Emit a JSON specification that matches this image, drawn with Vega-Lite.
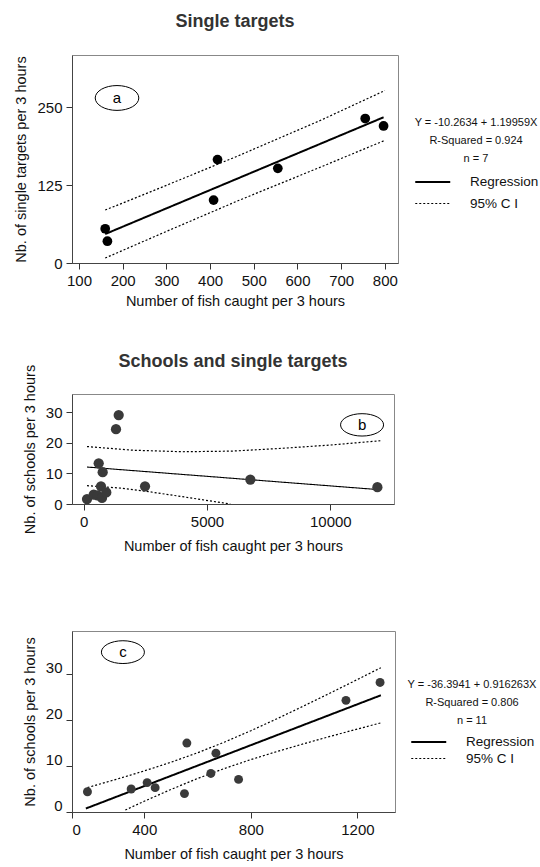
{
  "$schema": "https://vega.github.io/schema/vega-lite/v6.json",
  "background": "white",
  "padding": {"left": 13, "top": 12, "right": 0, "bottom": 0},
  "config": {
    "font": "Liberation Sans",
    "view": {"stroke": "#888", "strokeWidth": 1},
    "axis": {"grid": false, "labelFont": "Liberation Sans", "labelFontSize": 15, "labelColor": "#111", "titleFont": "Liberation Sans", "titleFontSize": 14.5, "titleFontWeight": "normal", "titleColor": "#111", "tickColor": "#333", "domainColor": "#444", "tickSize": 6, "labelPadding": 4},
    "title": {"fontSize": 18, "fontWeight": "bold", "color": "#333", "font": "Liberation Sans"},
    "concat": {"spacing": 44}
  },
  "resolve": {"scale": {"strokeDash": "independent", "strokeWidth": "independent"}, "legend": {"strokeDash": "independent", "strokeWidth": "independent"}},
  "datasets": {
    "pts_a": [
      {"x": 160, "y": 55}, {"x": 165, "y": 35}, {"x": 408, "y": 101}, {"x": 417, "y": 166},
      {"x": 555, "y": 152}, {"x": 755, "y": 232}, {"x": 797, "y": 220}
    ],
    "lines_a": [
      {"series": "Regression", "part": "fit", "x": 160, "y": 46.5},
      {"series": "Regression", "part": "fit", "x": 797, "y": 234},
      {"series": "95% C I", "part": "upper", "x": 160, "y": 85},
      {"series": "95% C I", "part": "upper", "x": 300, "y": 124.7},
      {"series": "95% C I", "part": "upper", "x": 465, "y": 172.3},
      {"series": "95% C I", "part": "upper", "x": 650, "y": 228.2},
      {"series": "95% C I", "part": "upper", "x": 800, "y": 276.9},
      {"series": "95% C I", "part": "lower", "x": 160, "y": 8},
      {"series": "95% C I", "part": "lower", "x": 300, "y": 50.7},
      {"series": "95% C I", "part": "lower", "x": 465, "y": 100.3},
      {"series": "95% C I", "part": "lower", "x": 650, "y": 153.2},
      {"series": "95% C I", "part": "lower", "x": 800, "y": 196.9}
    ],
    "lab_a": [{"x": 187, "y": 265, "label": "a"}],
    "pts_b": [
      {"x": 1419, "y": 29.1}, {"x": 1310, "y": 24.5}, {"x": 608, "y": 13.3}, {"x": 770, "y": 10.4},
      {"x": 701, "y": 5.8}, {"x": 2486, "y": 5.8}, {"x": 6756, "y": 8.0}, {"x": 11906, "y": 5.5},
      {"x": 134, "y": 1.6}, {"x": 405, "y": 3.1}, {"x": 560, "y": 2.8}, {"x": 742, "y": 2.0}, {"x": 917, "y": 3.8}
    ],
    "lines_b": [
      {"series": "Regression", "part": "fit", "x": 134, "y": 12.1},
      {"series": "Regression", "part": "fit", "x": 11960, "y": 4.7},
      {"series": "95% C I", "part": "upper", "x": 134, "y": 18.8},
      {"series": "95% C I", "part": "upper", "x": 2000, "y": 17.6},
      {"series": "95% C I", "part": "upper", "x": 4000, "y": 17.1},
      {"series": "95% C I", "part": "upper", "x": 6000, "y": 17.3},
      {"series": "95% C I", "part": "upper", "x": 8000, "y": 18.2},
      {"series": "95% C I", "part": "upper", "x": 10000, "y": 19.3},
      {"series": "95% C I", "part": "upper", "x": 12027, "y": 20.7},
      {"series": "95% C I", "part": "lower", "x": 134, "y": 6.0},
      {"series": "95% C I", "part": "lower", "x": 1500, "y": 5.2},
      {"series": "95% C I", "part": "lower", "x": 2500, "y": 4.2},
      {"series": "95% C I", "part": "lower", "x": 4000, "y": 2.4},
      {"series": "95% C I", "part": "lower", "x": 5945, "y": 0}
    ],
    "lab_b": [{"x": 11285, "y": 25.9, "label": "b"}],
    "pts_c": [
      {"x": 187, "y": 4.4}, {"x": 351, "y": 5.0}, {"x": 411, "y": 6.4}, {"x": 441, "y": 5.3},
      {"x": 551, "y": 4.0}, {"x": 560, "y": 15.0}, {"x": 650, "y": 8.4}, {"x": 669, "y": 12.8},
      {"x": 754, "y": 7.1}, {"x": 1157, "y": 24.3}, {"x": 1285, "y": 28.2}
    ],
    "lines_c": [
      {"series": "Regression", "part": "fit", "x": 181, "y": 0.76},
      {"series": "Regression", "part": "fit", "x": 1288, "y": 25.41},
      {"series": "95% C I", "part": "upper", "x": 187, "y": 5.32},
      {"series": "95% C I", "part": "upper", "x": 300, "y": 7.19},
      {"series": "95% C I", "part": "upper", "x": 400, "y": 8.94},
      {"series": "95% C I", "part": "upper", "x": 500, "y": 10.82},
      {"series": "95% C I", "part": "upper", "x": 600, "y": 12.89},
      {"series": "95% C I", "part": "upper", "x": 700, "y": 15.19},
      {"series": "95% C I", "part": "upper", "x": 800, "y": 17.69},
      {"series": "95% C I", "part": "upper", "x": 900, "y": 20.35},
      {"series": "95% C I", "part": "upper", "x": 1000, "y": 23.12},
      {"series": "95% C I", "part": "upper", "x": 1100, "y": 25.96},
      {"series": "95% C I", "part": "upper", "x": 1200, "y": 28.84},
      {"series": "95% C I", "part": "upper", "x": 1288, "y": 31.41},
      {"series": "95% C I", "part": "lower", "x": 329, "y": 0.43},
      {"series": "95% C I", "part": "lower", "x": 400, "y": 2.34},
      {"series": "95% C I", "part": "lower", "x": 500, "y": 4.90},
      {"series": "95% C I", "part": "lower", "x": 600, "y": 7.29},
      {"series": "95% C I", "part": "lower", "x": 700, "y": 9.45},
      {"series": "95% C I", "part": "lower", "x": 800, "y": 11.41},
      {"series": "95% C I", "part": "lower", "x": 900, "y": 13.19},
      {"series": "95% C I", "part": "lower", "x": 1000, "y": 14.88},
      {"series": "95% C I", "part": "lower", "x": 1100, "y": 16.50},
      {"series": "95% C I", "part": "lower", "x": 1200, "y": 18.06},
      {"series": "95% C I", "part": "lower", "x": 1288, "y": 19.41}
    ],
    "lab_c": [{"x": 320, "y": 34.8, "label": "c"}]
  },
  "vconcat": [
    {
      "width": 326, "height": 208,
      "title": {"text": "Single targets", "offset": 24},
      "encoding": {
        "x": {"field": "x", "type": "quantitative", "scale": {"domain": [84, 830], "nice": false, "zero": false},
              "axis": {"values": [100, 200, 300, 400, 500, 600, 700, 800], "title": "Number of  fish caught per 3 hours", "titlePadding": 6}},
        "y": {"field": "y", "type": "quantitative", "scale": {"domain": [0, 334], "nice": false},
              "axis": {"values": [0, 125, 250], "title": "Nb. of single targets per 3 hours", "titlePadding": 8}}
      },
      "layer": [
        {
          "data": {"name": "lines_a"},
          "mark": {"type": "line", "color": "black", "clip": true},
          "encoding": {
            "detail": {"field": "part", "type": "nominal"},
            "strokeDash": {"field": "series", "type": "nominal",
              "scale": {"domain": ["Regression", "95% C I"], "range": [[1, 0], [2, 2]]},
              "legend": {"orient": "none", "legendX": 342, "legendY": 62,
                "title": ["Y = -10.2634 + 1.19959X", "R-Squared = 0.924", "n = 7"],
                "titleFont": "Liberation Sans", "titleFontSize": 11, "titleFontWeight": "normal", "titleColor": "#111",
                "titleAnchor": "middle", "titleAlign": "center", "titleLineHeight": 18, "titlePadding": 8,
                "symbolType": "M-1,0H3", "symbolSize": 306, "symbolStrokeColor": "black",
                "labelFontSize": 13.5, "labelColor": "#111", "labelOffset": 36, "rowPadding": 5,
                "encode": {"symbols": {"update": {"strokeWidth": {"signal": "datum.value === 'Regression' ? 4 : 1.2"}, "stroke": {"value": "black"}}}}}},
            "strokeWidth": {"field": "series", "type": "nominal", "scale": {"domain": ["Regression", "95% C I"], "range": [2, 1.2]}, "legend": null}
          }
        },
        {"data": {"name": "pts_a"}, "mark": {"type": "circle", "size": 95, "color": "black", "opacity": 1}},
        {"data": {"name": "lab_a"}, "mark": {"type": "point", "shape": "M-1,0A1,0.57,0,1,1,1,0A1,0.57,0,1,1,-1,0Z", "size": 1900, "filled": false, "stroke": "black", "strokeWidth": 1, "opacity": 1}},
        {"data": {"name": "lab_a"}, "mark": {"type": "text", "fontSize": 15, "color": "black", "baseline": "middle"}, "encoding": {"text": {"field": "label"}}}
      ]
    },
    {
      "width": 322, "height": 110,
      "title": {"text": "Schools and single targets", "offset": -7},
      "encoding": {
        "x": {"field": "x", "type": "quantitative", "scale": {"domain": [-474, 12580], "nice": false, "zero": false},
              "axis": {"values": [0, 5000, 10000], "format": "d", "title": "Number of  fish caught per 3 hours", "titlePadding": 10}},
        "y": {"field": "y", "type": "quantitative", "scale": {"domain": [0, 36], "nice": false},
              "axis": {"values": [0, 10, 20, 30], "title": "Nb. of schools per 3 hours", "titlePadding": 8}}
      },
      "layer": [
        {
          "data": {"name": "lines_b"},
          "mark": {"type": "line", "color": "black", "clip": true},
          "encoding": {
            "detail": {"field": "part", "type": "nominal"},
            "strokeDash": {"field": "series", "type": "nominal", "scale": {"domain": ["Regression", "95% C I"], "range": [[1, 0], [2, 2]]}, "legend": null},
            "strokeWidth": {"field": "series", "type": "nominal", "scale": {"domain": ["Regression", "95% C I"], "range": [1.1, 1.2]}, "legend": null}
          }
        },
        {"data": {"name": "pts_b"}, "mark": {"type": "circle", "size": 105, "color": "#3a3a3a", "opacity": 1}},
        {"data": {"name": "lab_b"}, "mark": {"type": "point", "shape": "M-1,0A1,0.52,0,1,1,1,0A1,0.52,0,1,1,-1,0Z", "size": 1850, "filled": false, "stroke": "black", "strokeWidth": 1, "opacity": 1}},
        {"data": {"name": "lab_b"}, "mark": {"type": "text", "fontSize": 15, "color": "black", "baseline": "middle"}, "encoding": {"text": {"field": "label"}}}
      ]
    },
    {
      "width": 323, "height": 181,
      "title": {"text": " ", "fontSize": 10, "offset": 23},
      "encoding": {
        "x": {"field": "x", "type": "quantitative", "scale": {"domain": [129, 1341], "nice": false, "zero": false},
              "axis": {"values": [129, 400, 800, 1200], "labelExpr": "datum.value < 200 ? '0' : format(datum.value, 'd')", "title": "Number of  fish caught per 3 hours", "titlePadding": 10}},
        "y": {"field": "y", "type": "quantitative", "scale": {"domain": [0, 39.4], "nice": false},
              "axis": {"values": [0, 10, 20, 30], "labelOffset": -7, "title": "Nb. of schools per 3 hours", "titlePadding": 8}}
      },
      "layer": [
        {
          "data": {"name": "lines_c"},
          "mark": {"type": "line", "color": "black", "clip": true},
          "encoding": {
            "detail": {"field": "part", "type": "nominal"},
            "strokeDash": {"field": "series", "type": "nominal",
              "scale": {"domain": ["Regression", "95% C I"], "range": [[1, 0], [2, 2]]},
              "legend": {"orient": "none", "legendX": 335, "legendY": 48,
                "title": ["Y = -36.3941 + 0.916263X", "R-Squared = 0.806", "n = 11"],
                "titleFont": "Liberation Sans", "titleFontSize": 11, "titleFontWeight": "normal", "titleColor": "#111",
                "titleAnchor": "middle", "titleAlign": "center", "titleLineHeight": 18, "titlePadding": 6,
                "symbolType": "M-1,0H3", "symbolSize": 306, "symbolStrokeColor": "black",
                "labelFontSize": 13.5, "labelColor": "#111", "labelOffset": 36, "rowPadding": -1,
                "encode": {"symbols": {"update": {"strokeWidth": {"signal": "datum.value === 'Regression' ? 4 : 1.2"}, "stroke": {"value": "black"}}}}}},
            "strokeWidth": {"field": "series", "type": "nominal", "scale": {"domain": ["Regression", "95% C I"], "range": [2, 1.2]}, "legend": null}
          }
        },
        {"data": {"name": "pts_c"}, "mark": {"type": "circle", "size": 80, "color": "#3a3a3a", "opacity": 1}},
        {"data": {"name": "lab_c"}, "mark": {"type": "point", "shape": "M-1,0A1,0.53,0,1,1,1,0A1,0.53,0,1,1,-1,0Z", "size": 1850, "filled": false, "stroke": "black", "strokeWidth": 1, "opacity": 1}},
        {"data": {"name": "lab_c"}, "mark": {"type": "text", "fontSize": 15, "color": "black", "baseline": "middle"}, "encoding": {"text": {"field": "label"}}}
      ]
    }
  ]
}
